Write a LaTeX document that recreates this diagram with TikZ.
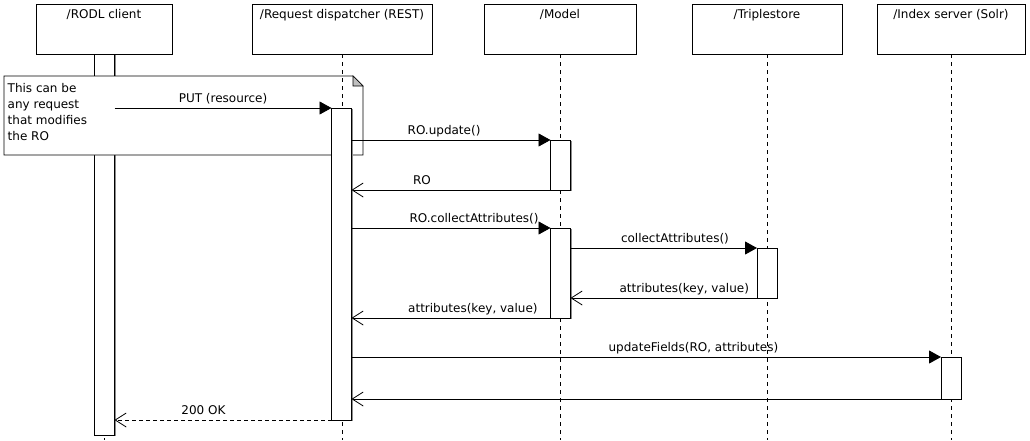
\documentclass[tikz,border=0pt]{standalone}
\usepackage{fontspec}
\setmainfont{DejaVu Sans}
\usetikzlibrary{arrows.meta,shadows,calc}
\newcommand\diafont{\fontsize{12}{16}\selectfont}
\begin{document}
\begin{tikzpicture}[x=1pt,y=-1pt,
  shad/.style={drop shadow={shadow xshift=1pt,shadow yshift=-1pt,fill=black!45,opacity=1}},
  head/.style={draw, line width=0.9pt, fill=white, minimum height=50pt, inner sep=0pt, outer sep=0pt, anchor=north, shad},
  headtxt/.style={anchor=base, inner sep=0pt, font=\diafont},
  actbar/.style={draw, fill=white, line width=0.9pt, minimum width=20pt, inner sep=0pt, outer sep=0pt, anchor=north, shad},
  lifeline/.style={dash pattern=on 4pt off 4pt, line width=0.9pt},
  call/.style={-{Triangle[length=12pt,width=13pt]}, line width=0.9pt},
  ret/.style={-{Straight Barb[length=11pt,width=14pt]}, line width=0.8pt},
  lbl/.style={anchor=base, inner sep=0pt, yshift=5.5pt, font=\diafont},
  notetxt/.style={anchor=north west, inner sep=0pt, align=left, font=\diafont}
]
\useasboundingbox (0,0) rectangle (1030,440);
\fill[white] (0,0) rectangle (1030,440);
\coordinate (bottom) at (0,440);

% heads
\node[head, minimum width=136pt] (rodl) at (104,4) {};
\node[head, minimum width=180pt] (disp) at (342,4) {};
\node[head, minimum width=152pt] (model) at (560,4) {};
\node[head, minimum width=150pt] (triple) at (767,4) {};
\node[head, minimum width=148pt] (index) at (951,4) {};
\node[headtxt] (rodlT) at ([yshift=-14pt]rodl.north) {/RODL client};
\node[headtxt] (dispT) at ([yshift=-14pt]disp.north) {/Request dispatcher (REST)};
\node[headtxt] (modelT) at ([yshift=-14pt]model.north) {/Model};
\node[headtxt] (tripleT) at ([yshift=-14pt]triple.north) {/Triplestore};
\node[headtxt] (indexT) at ([yshift=-14pt]index.north) {/Index server (Solr)};

% lifelines (except dispatcher)
\draw[lifeline] (rodl.south) -- (rodl.south |- bottom);
\draw[lifeline] (model.south) -- (model.south |- bottom);
\draw[lifeline] (triple.south) -- (triple.south |- bottom);
\draw[lifeline] (index.south) -- (index.south |- bottom);

% client activation
\node[actbar, minimum height=381pt] (actR) at (104.5,54) {};

% note
\draw[fill=white, line width=0.9pt] (4,76) -- (353,76) -- (363,86) -- (363,155) -- (4,155) -- cycle;
\draw[fill=black!25, line width=0.6pt] (353,76) -- (353,86) -- (363,86) -- cycle;
\node[notetxt] (note) at (7.5,83.3) {This can be\\any request\\that modifies\\the RO};

% dispatcher lifeline
\draw[lifeline] (disp.south) -- (disp.south |- bottom);

% activations
\node[actbar, minimum height=312pt] (actD) at (341.5,108) {};
\node[actbar, minimum height=50pt] (actM1) at (560.5,140) {};
\node[actbar, minimum height=90pt] (actM2) at (560.5,228) {};
\node[actbar, minimum height=50pt] (actT) at (767,248) {};
\node[actbar, minimum height=42pt] (actI) at (951,357) {};

% messages
\draw[call] (actR.east |- actD.north) -- node[lbl,pos=0.5]{PUT (resource)} (actD.north west);
\draw[call] (actD.east |- actM1.north) -- node[lbl,pos=0.465]{RO.update()} (actM1.north west);
\draw[ret] (actM1.south west) -- node[lbl,pos=0.646]{RO} (actM1.south west -| actD.east);
\draw[call] (actD.east |- actM2.north) -- node[lbl,pos=0.616]{RO.collectAttributes()} (actM2.north west);
\draw[call] (actM2.east |- actT.north) -- node[lbl,pos=0.56]{collectAttributes()} (actT.north west);
\draw[ret] (actT.south west) -- node[lbl,pos=0.39]{attributes(key, value)} (actT.south west -| actM2.east);
\draw[ret] (actM2.south west) -- node[lbl,pos=0.39]{attributes(key, value)} (actM2.south west -| actD.east);
\draw[call] (actD.east |- actI.north) -- node[lbl,pos=0.58]{updateFields(RO, attributes)} (actI.north west);
\draw[ret] (actI.south west) -- (actI.south west -| actD.east);
\draw[ret, dash pattern=on 4pt off 3pt] (actD.south west) -- node[lbl,pos=0.59]{200 OK} (actD.south west -| actR.east);
\end{tikzpicture}
\end{document}
